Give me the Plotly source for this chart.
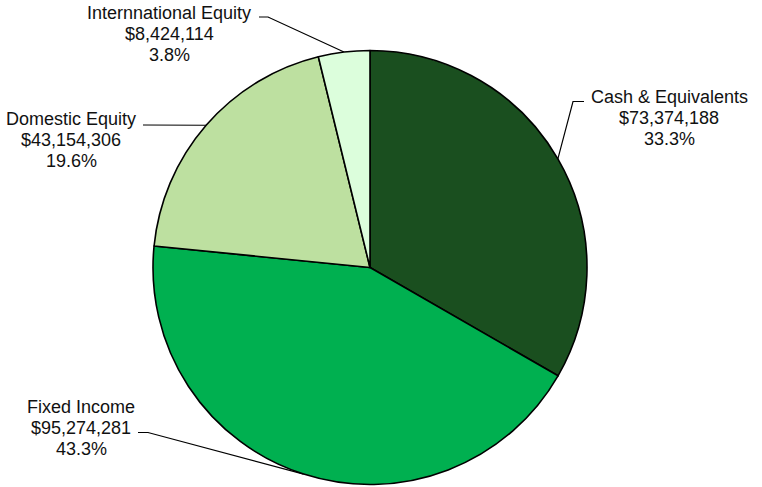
import math
import plotly.graph_objects as go

# Portfolio allocation by asset class
categories = ["Cash & Equivalents", "Fixed Income", "Domestic Equity", "Internnational Equity"]
values = [73374188, 95274281, 43154306, 8424114]
colors = ["#1A4F1F", "#00B050", "#BDE0A0", "#DCFEDC"]

W, H = 762, 487
CX, CY, R = 370, 267.5, 217      # pie centre and radius in pixels

# Label blocks: centre x, first text line centre y, and leader tick start / elbow (pixels)
label_layout = {
    "Cash & Equivalents":    dict(x=669, y=96.5, tick=(584, 101.5), elbow=(573, 101.5)),
    "Fixed Income":          dict(x=81, y=406.5, tick=(138, 432.5), elbow=(148, 432.5)),
    "Domestic Equity":       dict(x=71, y=118.5, tick=(143, 125), elbow=(150, 125)),
    "Internnational Equity": dict(x=169, y=12.5, tick=(259, 17), elbow=(268, 17)),
}
LINE_GAP = 21.3
FONT = dict(family="Liberation Sans, Arial, sans-serif", size=18, color="#111111")

total = sum(values)

fig = go.Figure()

fig.add_trace(go.Pie(
    labels=categories,
    values=values,
    sort=False,
    direction="clockwise",
    rotation=0,
    marker=dict(colors=colors, line=dict(color="#000000", width=1.6)),
    textinfo="none",
    hoverinfo="label+value+percent",
    showlegend=False,
    domain=dict(
        x=[(CX - R) / W, (CX + R) / W],
        y=[1 - (CY + R) / H, 1 - (CY - R) / H],
    ),
))

annotations = []
cum = 0.0
for cat, val in zip(categories, values):
    frac = val / total
    mid = math.radians(90 - 360 * (cum + frac / 2))
    cum += frac
    px = CX + R * math.cos(mid)
    py = CY - R * math.sin(mid)

    lay = label_layout[cat]
    # leader line: short horizontal tick, then to the slice's mid-arc point
    fig.add_trace(go.Scatter(
        x=[lay["tick"][0], lay["elbow"][0], px],
        y=[lay["tick"][1], lay["elbow"][1], py],
        mode="lines",
        line=dict(color="#000000", width=1.2),
        hoverinfo="skip",
        showlegend=False,
    ))

    lines = [cat, "${:,}".format(val), "{:.1f}%".format(frac * 100)]
    for i, txt in enumerate(lines):
        annotations.append(dict(
            x=lay["x"], y=lay["y"] + i * LINE_GAP,
            xref="x", yref="y",
            text=txt, showarrow=False,
            xanchor="center", yanchor="middle",
            font=FONT,
        ))

fig.update_layout(
    width=W, height=H,
    margin=dict(l=0, r=0, t=0, b=0),
    paper_bgcolor="#FFFFFF",
    plot_bgcolor="rgba(0,0,0,0)",
    xaxis=dict(range=[0, W], visible=False, fixedrange=True),
    yaxis=dict(range=[H, 0], visible=False, fixedrange=True),
    annotations=annotations,
)

fig.write_html("out.html")
